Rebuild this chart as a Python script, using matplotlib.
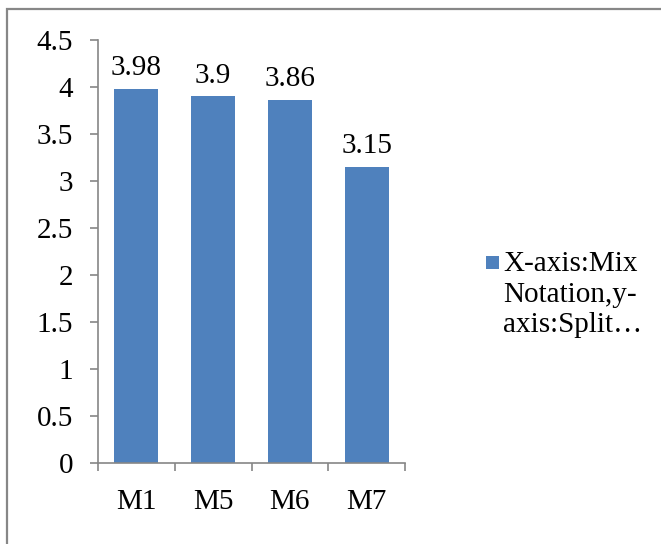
import matplotlib
matplotlib.use("Agg")
import matplotlib.pyplot as plt
from matplotlib.patches import Rectangle

categories = ["M1", "M5", "M6", "M7"]
values = [3.98, 3.9, 3.86, 3.15]
value_labels = ["3.98", "3.9", "3.86", "3.15"]
yticks = [0, 0.5, 1, 1.5, 2, 2.5, 3, 3.5, 4, 4.5]
ytick_labels = ["0", "0.5", "1", "1.5", "2", "2.5", "3", "3.5", "4", "4.5"]
legend_label = "X-axis:Mix\nNotation,y-\naxis:Split…"

plt.rcParams['font.family'] = ['Liberation Serif', 'DejaVu Serif']
FS = 21
W, H = 661, 544
fig = plt.figure(figsize=(W/100, H/100), dpi=100)
fig.patch.set_facecolor("white")

# outer border (cropped on right and bottom)
fig.patches.append(Rectangle((7/W, -0.1), 2.0, 1 - 9/H + 0.1, transform=fig.transFigure,
                             fill=False, edgecolor="#878787", linewidth=1.6))

ax = fig.add_axes([98/W, 1 - 463/H, (405-98)/W, (463-40)/H])
bar_color = "#4F81BD"
x = list(range(len(categories)))
ax.bar(x, values, width=0.575, color=bar_color, zorder=2)
ax.set_xlim(-0.5, len(categories) - 0.5)
ax.set_ylim(0, 4.5)
for xi, v, lab in zip(x, values, value_labels):
    ax.annotate(lab, (xi, v), xytext=(0, 10), textcoords="offset points",
                ha="center", va="baseline", fontsize=FS, color="#000000")

for s in ["top", "right"]:
    ax.spines[s].set_visible(False)
for s in ["left", "bottom"]:
    ax.spines[s].set_color("#868686")
    ax.spines[s].set_linewidth(1.2)

ax.set_yticks(yticks)
ax.set_yticklabels(ytick_labels, fontsize=FS)
ax.tick_params(axis="y", direction="out", length=5.8, width=1.2, color="#868686", pad=12)
ax.set_xticks(x)
ax.set_xticklabels(categories, fontsize=FS)
ax.tick_params(axis="x", which="major", length=0, pad=19)
ax.set_xticks([i - 0.5 for i in range(len(categories) + 1)], minor=True)
ax.tick_params(axis="x", which="minor", direction="out", length=5.8, width=1.2, color="#868686")

# legend
lines = legend_label.split("\n")
fig.patches.append(Rectangle((486/W, 1 - 269/H), 13/W, 13/H, transform=fig.transFigure,
                             facecolor=bar_color, edgecolor="none"))
for i, line in enumerate(lines):
    fig.text(503/W, 1 - (271 + 30.5 * i)/H, line, ha="left", va="baseline", fontsize=FS)

fig.savefig("out.png", dpi=100)
